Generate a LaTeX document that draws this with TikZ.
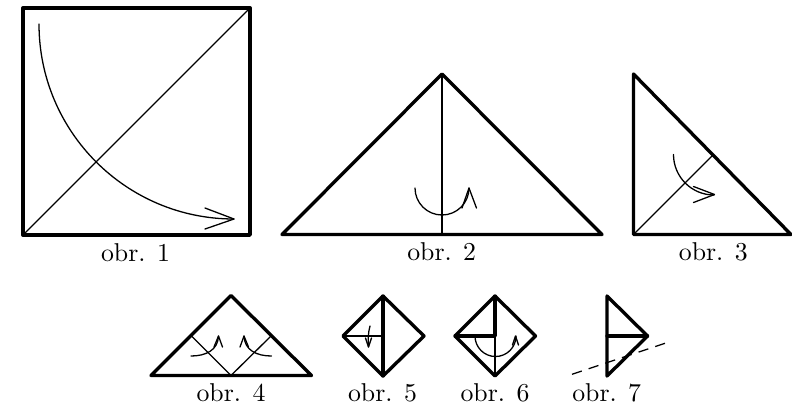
\documentclass[tikz,border=0pt]{standalone}
\begin{document}
\begin{tikzpicture}[x=0.3877pt,y=-0.3877pt,line join=round,line cap=round,
  thickline/.style={line width=1.3pt},
  midline/.style={line width=0.8pt},
  thinline/.style={line width=0.5pt},
  arrowline/.style={line width=0.5pt},
  caption/.style={anchor=base,inner sep=0pt,font=\fontsize{10}{12}\selectfont}]
\useasboundingbox (0,0) rectangle (792,406);
% obr. 1
\draw[thinline] (23,235) -- (250,8);
\draw[thickline] (23,8) rectangle (250,235);
\draw[arrowline] (39,24) arc[start angle=180,end angle=90,radius=195];
\draw[arrowline] (205,208) -- (234,219) -- (205,229);
\node[caption] (c1) at (135.5,261) {obr. 1};
% obr. 2
\draw[midline] (442,74) -- (442,234.5);
\draw[thickline] (282,234.5) -- (442,74) -- (602,234.5) -- cycle;
\draw[arrowline] (415,188) arc[start angle=180,end angle=0,radius=27];
\draw[arrowline] (462,208) -- (469,188) -- (476.5,208);
\node[caption] (c2) at (441.7,260.5) {obr. 2};
% obr. 3
\draw[thinline] (633.5,234.5) -- (713,155);
\draw[thickline] (633.5,74) -- (633.5,234.5) -- (791,234.5) -- cycle;
\draw[arrowline] (673.5,154.5) arc[start angle=180,end angle=90,radius=40.5];
\draw[arrowline] (693.5,186.5) -- (714.5,194.5) -- (693.5,202.5);
\node[caption] (c3) at (713.3,260.5) {obr. 3};
% obr. 4
\draw[thinline] (191.5,336) -- (231,375.5) -- (271,336);
\draw[thickline] (151,375.5) -- (231,295.5) -- (311.5,375.5) -- cycle;
\draw[arrowline] (191,356) .. controls (206,356) and (218,350) .. (218.5,336);
\draw[arrowline] (214,347) -- (218.5,336) -- (222.5,347);
\draw[arrowline] (271.5,356) .. controls (256.5,356) and (244.5,350) .. (244,336);
\draw[arrowline] (240,347) -- (244,336) -- (248.5,347);
\node[caption] (c4) at (231,401.5) {obr. 4};
% obr. 5
\draw[thinline] (343,336) -- (383,336);
\draw[thickline] (383,296) -- (343,336) -- (383,376) -- (424,336) -- cycle;
\draw[thickline] (383,296) -- (383,376);
\draw[arrowline] (370,326) .. controls (368,333) and (368,340) .. (368.5,347);
\draw[arrowline] (365.5,338) -- (368.5,347) -- (371.5,338);
\node[caption] (c5) at (382.5,401.5) {obr. 5};
% obr. 6
\draw[midline] (495,336) -- (495,376);
\draw[thickline] (495,296) -- (455,336) -- (495,376) -- (535.5,336) -- cycle;
\draw[thickline] (495,296) -- (495,336) -- (455,336);
\draw[arrowline] (475,336) arc[start angle=180,end angle=0,radius=20.5];
\draw[arrowline] (512.5,345) -- (515.5,336) -- (518.5,345);
\node[caption] (c6) at (495,401.5) {obr. 6};
% obr. 7
\draw[thickline] (607,296) -- (647.5,336) -- (607,376) -- cycle;
\draw[thickline] (607,336) -- (647.5,336);
\draw[arrowline,line cap=butt,dash pattern=on 4pt off 2.8pt] (572,374.3) -- (668,342.3);
\node[caption] (c7) at (606.7,401.5) {obr. 7};
\end{tikzpicture}
\end{document}
